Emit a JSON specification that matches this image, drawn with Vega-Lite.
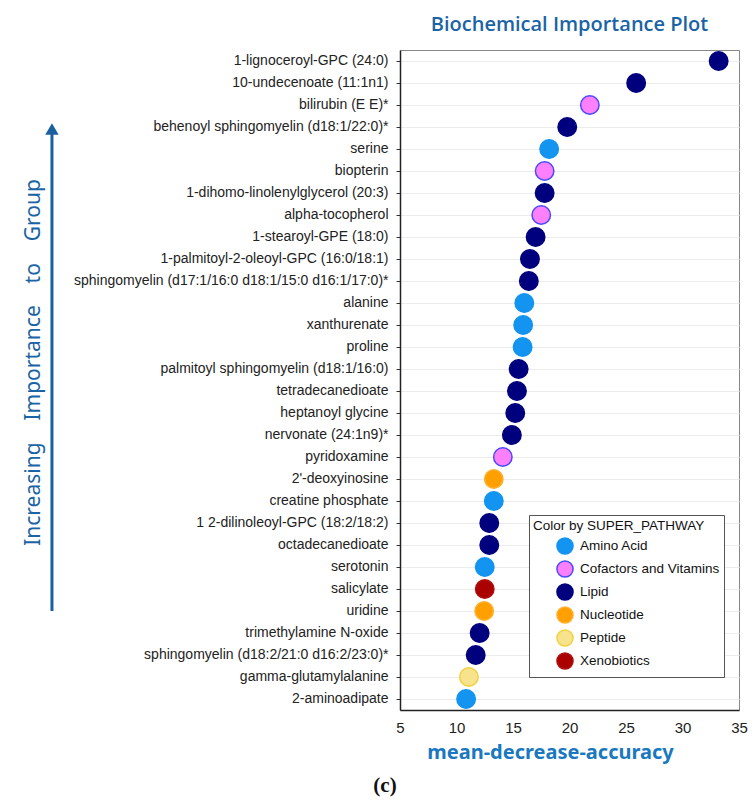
{
  "$schema": "https://vega.github.io/schema/vega-lite/v6.json",
  "width": 339,
  "height": 660,
  "autosize": {"type": "none"},
  "padding": {"left": 400, "top": 50, "right": 15, "bottom": 91},
  "background": "white",
  "config": {"font": "Liberation Sans", "view": {"stroke": "#888", "strokeWidth": 1}},
  "title": {"text": "Biochemical Importance Plot", "font": "Open Sans", "fontSize": 20, "fontWeight": 600, "color": "#1a64a6", "offset": 14, "anchor": "middle"},
  "data": {"values": [
    {"metabolite": "1-lignoceroyl-GPC (24:0)", "importance": 33.2, "pathway": "Lipid"},
    {"metabolite": "10-undecenoate (11:1n1)", "importance": 25.9, "pathway": "Lipid"},
    {"metabolite": "bilirubin (E E)*", "importance": 21.8, "pathway": "Cofactors and Vitamins"},
    {"metabolite": "behenoyl sphingomyelin (d18:1/22:0)*", "importance": 19.8, "pathway": "Lipid"},
    {"metabolite": "serine", "importance": 18.2, "pathway": "Amino Acid"},
    {"metabolite": "biopterin", "importance": 17.8, "pathway": "Cofactors and Vitamins"},
    {"metabolite": "1-dihomo-linolenylglycerol (20:3)", "importance": 17.8, "pathway": "Lipid"},
    {"metabolite": "alpha-tocopherol", "importance": 17.5, "pathway": "Cofactors and Vitamins"},
    {"metabolite": "1-stearoyl-GPE (18:0)", "importance": 17.0, "pathway": "Lipid"},
    {"metabolite": "1-palmitoyl-2-oleoyl-GPC (16:0/18:1)", "importance": 16.5, "pathway": "Lipid"},
    {"metabolite": "sphingomyelin (d17:1/16:0 d18:1/15:0 d16:1/17:0)*", "importance": 16.4, "pathway": "Lipid"},
    {"metabolite": "alanine", "importance": 16.0, "pathway": "Amino Acid"},
    {"metabolite": "xanthurenate", "importance": 15.9, "pathway": "Amino Acid"},
    {"metabolite": "proline", "importance": 15.85, "pathway": "Amino Acid"},
    {"metabolite": "palmitoyl sphingomyelin (d18:1/16:0)", "importance": 15.5, "pathway": "Lipid"},
    {"metabolite": "tetradecanedioate", "importance": 15.35, "pathway": "Lipid"},
    {"metabolite": "heptanoyl glycine", "importance": 15.2, "pathway": "Lipid"},
    {"metabolite": "nervonate (24:1n9)*", "importance": 14.9, "pathway": "Lipid"},
    {"metabolite": "pyridoxamine", "importance": 14.1, "pathway": "Cofactors and Vitamins"},
    {"metabolite": "2'-deoxyinosine", "importance": 13.3, "pathway": "Nucleotide"},
    {"metabolite": "creatine phosphate", "importance": 13.3, "pathway": "Amino Acid"},
    {"metabolite": "1 2-dilinoleoyl-GPC (18:2/18:2)", "importance": 12.9, "pathway": "Lipid"},
    {"metabolite": "octadecanedioate", "importance": 12.9, "pathway": "Lipid"},
    {"metabolite": "serotonin", "importance": 12.5, "pathway": "Amino Acid"},
    {"metabolite": "salicylate", "importance": 12.5, "pathway": "Xenobiotics"},
    {"metabolite": "uridine", "importance": 12.45, "pathway": "Nucleotide"},
    {"metabolite": "trimethylamine N-oxide", "importance": 12.05, "pathway": "Lipid"},
    {"metabolite": "sphingomyelin (d18:2/21:0 d16:2/23:0)*", "importance": 11.7, "pathway": "Lipid"},
    {"metabolite": "gamma-glutamylalanine", "importance": 11.1, "pathway": "Peptide"},
    {"metabolite": "2-aminoadipate", "importance": 10.85, "pathway": "Amino Acid"}
  ]},
  "layer": [
    {
      "mark": {"type": "circle", "size": 340, "opacity": 1, "strokeWidth": 1.5},
      "encoding": {
        "y": {
          "field": "metabolite", "type": "nominal", "sort": null,
          "axis": {
            "title": "Increasing\u00a0\u00a0\u00a0\u00a0Importance\u00a0\u00a0\u00a0\u00a0to\u00a0\u00a0\u00a0\u00a0Group",
            "titleX": -367, "titleY": 312, "titleAngle": 270, "titleAlign": "center", "titleBaseline": "middle",
            "titleFont": "Noto Sans", "titleFontSize": 21, "titleFontWeight": "normal", "titleColor": "#1a64a6",
            "labelFont": "Liberation Sans", "labelFontSize": 14, "labelColor": "#222", "labelLimit": 400,
            "tickSize": 4, "tickColor": "#333", "labelPadding": 8,
            "grid": true, "gridColor": "#ececec",
            "domain": true, "domainColor": "#222", "domainWidth": 1.5
          }
        },
        "x": {
          "field": "importance", "type": "quantitative",
          "scale": {"domain": [5, 35], "nice": false, "zero": false},
          "axis": {
            "values": [5, 10, 15, 20, 25, 30, 35],
            "title": "mean-decrease-accuracy",
            "titleFont": "Noto Sans", "titleFontSize": 20, "titleFontWeight": "bold", "titleColor": "#1a78c0",
            "titleX": 150, "titleY": 48, "titleAlign": "center", "titleBaseline": "alphabetic",
            "labelFont": "Liberation Sans", "labelFontSize": 15, "labelColor": "#222", "labelFlush": false,
            "ticks": false, "labelPadding": 10, "grid": false,
            "domainColor": "#222", "domainWidth": 1.5
          }
        },
        "fill": {
          "field": "pathway", "type": "nominal", "title": "Color by SUPER_PATHWAY",
          "scale": {
            "domain": ["Amino Acid", "Cofactors and Vitamins", "Lipid", "Nucleotide", "Peptide", "Xenobiotics"],
            "range": ["#1294f0", "#ff80ff", "#00007f", "#ffa000", "#f7e38c", "#aa0000"]
          },
          "legend": {
            "orient": "none", "legendX": 129, "legendY": 465,
            "titleFont": "Liberation Sans", "titleFontSize": 13.5, "titleFontWeight": "normal", "titleColor": "#111",
            "labelFont": "Liberation Sans", "labelFontSize": 13.5, "labelColor": "#111",
            "symbolSize": 260, "symbolOffset": 23, "rowPadding": -1, "padding": 4,
            "strokeColor": "#555", "fillColor": "white", "titlePadding": 4.5, "labelOffset": 6,
            "symbolStrokeWidth": 1.5, "symbolType": "circle"
          }
        },
        "stroke": {
          "field": "pathway", "type": "nominal", "title": "Color by SUPER_PATHWAY",
          "scale": {
            "domain": ["Amino Acid", "Cofactors and Vitamins", "Lipid", "Nucleotide", "Peptide", "Xenobiotics"],
            "range": ["#1294f0", "#4a4aff", "#00007f", "#ffb030", "#f2d040", "#b01010"]
          }
        }
      }
    },
    {
      "data": {"values": [{"part": "arrow"}]},
      "mark": {"type": "rule", "color": "#1a5fa0", "strokeWidth": 3},
      "encoding": {
        "x": {"datum": -25.8},
        "y": {"datum": "behenoyl sphingomyelin (d18:1/22:0)*"},
        "y2": {"datum": "uridine"}
      }
    },
    {
      "data": {"values": [{"part": "arrowhead"}]},
      "mark": {"type": "point", "shape": "triangle-up", "filled": true, "size": 180, "color": "#1a5fa0", "opacity": 1, "yOffset": 2},
      "encoding": {
        "x": {"datum": -25.8},
        "y": {"datum": "behenoyl sphingomyelin (d18:1/22:0)*"}
      }
    },
    {
      "data": {"values": [{"part": "caption"}]},
      "mark": {"type": "text", "text": "(c)", "font": "Liberation Serif", "fontSize": 21, "fontWeight": "bold", "color": "#111", "yOffset": 87, "baseline": "middle", "align": "center"},
      "encoding": {
        "x": {"datum": 3.67},
        "y": {"datum": "2-aminoadipate"}
      }
    }
  ]
}
